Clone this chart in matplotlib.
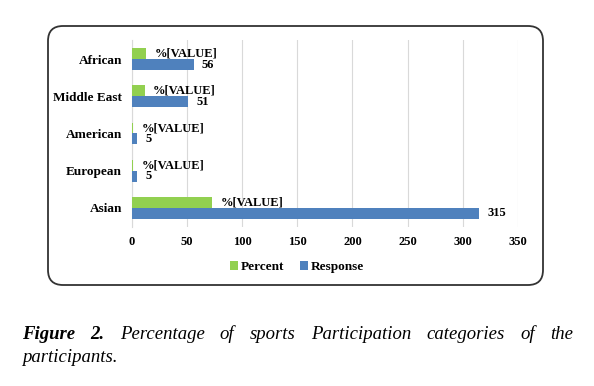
import matplotlib
matplotlib.use("Agg")
import matplotlib.pyplot as plt
from matplotlib.patches import FancyBboxPatch
import numpy as np

# data, bottom to top as drawn
categories = ["Asian", "European", "American", "Middle East", "African"]
response = [315, 5, 5, 51, 56]
percent = [72.9, 1.2, 1.2, 11.8, 13.0]
percent_labels = ["%[VALUE]"] * 5
response_labels = [str(v) for v in response]
xticks = [0, 50, 100, 150, 200, 250, 300, 350]

green = "#92D050"
blue = "#4F81BD"

plt.rcParams["font.family"] = ["Liberation Serif", "DejaVu Serif"]

W, H = 594, 386
fig = plt.figure(figsize=(W / 100, H / 100), dpi=100)

# rounded chart frame
frame = FancyBboxPatch((0.48, 1.01), 4.95, 2.59,
                       boxstyle="round,pad=0,rounding_size=0.15",
                       transform=fig.dpi_scale_trans, fill=False,
                       edgecolor="#333333", linewidth=1.3)
fig.patches.append(frame)

ax = fig.add_axes([131.7 / W, 1 - 226.6 / H, (518 - 131.7) / W, (226.6 - 40.4) / H])

y = np.arange(len(categories))
h = 0.295
b1 = ax.barh(y + h / 2, percent, height=h, color=green, label="Percent", zorder=3)
b2 = ax.barh(y - h / 2, response, height=h, color=blue, label="Response", zorder=3)

ax.bar_label(b1, labels=percent_labels, padding=6, fontsize=9, fontweight="bold")
ax.bar_label(b2, labels=response_labels, padding=6, fontsize=9, fontweight="bold")

ax.set_xlim(0, 350)
ax.set_ylim(-0.5, 4.5)
ax.set_xticks(xticks)
ax.set_yticks(y)
ax.set_yticklabels(categories)
ax.tick_params(length=0, labelsize=9)
ax.tick_params(axis="y", pad=7, labelsize=9.5)
ax.tick_params(axis="x", pad=7)
for lab in ax.get_xticklabels() + ax.get_yticklabels():
    lab.set_fontweight("bold")
ax.grid(axis="x", color="#D9D9D9", linewidth=0.8, zorder=0)
for s in ["top", "right", "bottom"]:
    ax.spines[s].set_visible(False)
ax.spines["left"].set_color("#D9D9D9")

ax.legend(loc="center", bbox_to_anchor=(297 / W, 1 - 267 / H),
          bbox_transform=fig.transFigure, ncol=2, frameon=False,
          handlelength=0.6, handleheight=0.6, handletextpad=0.2,
          columnspacing=1.2, prop={"weight": "bold", "size": 9.5})

# justified caption
words = [("Figure", "bold"), ("2.", "bold"), ("Percentage", "normal"), ("of", "normal"),
         ("sports", "normal"), ("Participation", "normal"), ("categories", "normal"),
         ("of", "normal"), ("the", "normal")]
x0, x1 = 21.7, 573
base1 = 1 - 339 / H
texts = []
for w, wt in words:
    texts.append(fig.text(0, base1, w, fontsize=13.5, style="italic", fontweight=wt,
                          va="baseline", ha="left"))
fig.canvas.draw()
r = fig.canvas.get_renderer()
widths = [t.get_window_extent(r).width for t in texts]
gap = (x1 - x0 - sum(widths)) / (len(words) - 1)
x = x0
for t, wd in zip(texts, widths):
    t.set_x(x / W)
    x += wd + gap
fig.text(x0 / W, 1 - 362 / H, "participants.", fontsize=13.5, style="italic",
         va="baseline", ha="left")

fig.savefig("out.png", dpi=100)
